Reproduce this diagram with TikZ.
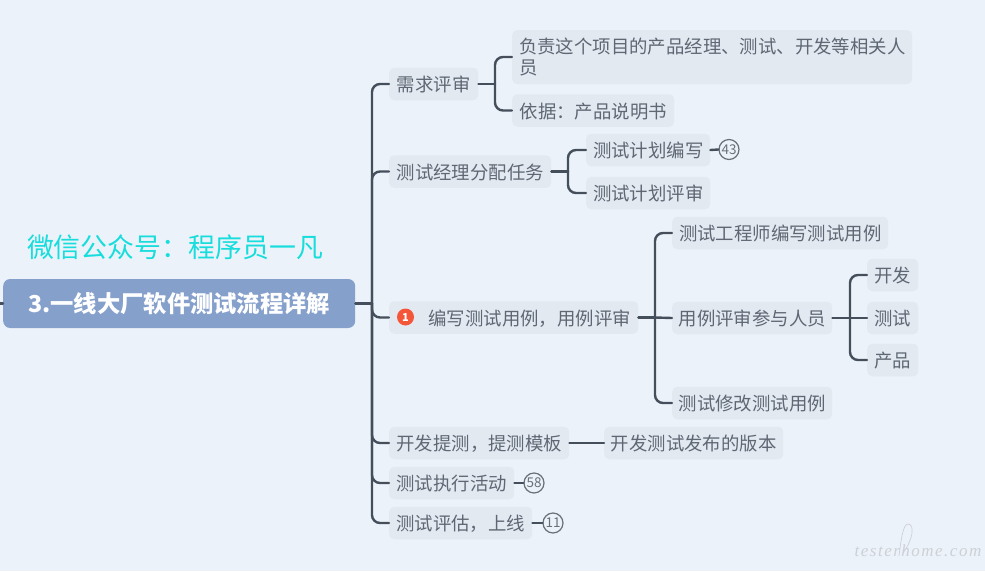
\documentclass[tikz,border=0pt]{standalone}
\usepackage{fontspec}
\setmainfont{Noto Sans CJK SC}
\newfontfamily\wmfont[LetterSpace=9]{Liberation Serif}
\newcommand\fwcomma{\symbol{"FF0C}}
\newcommand\fwcolon{\symbol{"FF1A}}
\definecolor{bgc}{HTML}{EBF2F9}
\definecolor{boxc}{HTML}{E3E9F1}
\definecolor{txtc}{HTML}{5E6773}
\definecolor{linec}{HTML}{454F5C}
\definecolor{rootc}{HTML}{86A0CC}
\definecolor{cyanc}{HTML}{17DDDC}
\definecolor{redc}{HTML}{F4563A}
\definecolor{numc}{HTML}{6A7078}
\definecolor{wmc}{HTML}{CDD1D6}
\tikzset{
  x=1pt,y=-1pt,
  topicbox/.style={fill=boxc,text=txtc,rounded corners=5pt,anchor=west,inner sep=0pt,minimum height=32.5pt,font=\fontsize{18.4}{20.5}\selectfont,align=left,text height=15.5pt,text depth=0pt},
  rootbox/.style={fill=rootc,text=white,rounded corners=7pt,anchor=west,inner sep=0pt,minimum width=352pt,minimum height=49pt,font=\fontsize{23.3}{26}\selectfont\bfseries},
  numbadge/.style={circle,draw=numc,line width=1.2pt,text=numc,inner sep=0pt,minimum size=20pt,font=\fontsize{13.5}{13.5}\selectfont},
  redbadge/.style={circle,fill=redc,text=white,inner sep=0pt,minimum size=17pt,font=\fontsize{11}{11}\selectfont\bfseries},
  conn/.style={draw=linec,line width=2.4pt,line cap=round},
  bendline/.style={conn,rounded corners=8pt},
}
\begin{document}
\begin{tikzpicture}
\useasboundingbox[fill=bgc] (0,0) rectangle (985,571);
% watermark title
\node[text=cyanc,font=\fontsize{26.9}{30}\selectfont,inner sep=0pt] (wx) at (175,247) {微信公众号\fwcolon 程序员一凡};
% root
\node[rootbox] (root) at (3,303.5) {3.一线大厂软件测试流程详解};
% level 1
\node[topicbox,minimum width=89pt] (a) at (389,84) {需求评审};
\node[topicbox,minimum width=162pt] (b) at (389,171.5) {测试经理分配任务};
\node[topicbox,minimum width=249pt] (c) at (389,317.5) {\hspace*{32pt}编写测试用例\fwcomma 用例评审};
\node[topicbox,minimum width=180pt] (d) at (389,443) {开发提测\fwcomma 提测模板};
\node[topicbox,minimum width=125pt] (e) at (389,483) {测试执行活动};
\node[topicbox,minimum width=143pt] (f) at (389,523) {测试评估\fwcomma 上线};
\node[redbadge] (cbadge) at (405.5,317) {1};
% level 2
\node[topicbox,minimum width=400pt,minimum height=54pt,text height={},text depth={}] (a1) at (512,57) {负责这个项目的产品经理、测试、开发等相关人\\员};
\node[topicbox,minimum width=162pt] (a2) at (512,110.5) {依据\fwcolon 产品说明书};
\node[topicbox,minimum width=124pt] (b1) at (586,150) {测试计划编写};
\node[topicbox,minimum width=124pt] (b2) at (586,193) {测试计划评审};
\node[topicbox,minimum width=216pt] (c1) at (672,233) {测试工程师编写测试用例};
\node[topicbox,minimum width=160pt] (c2) at (672,318) {用例评审参与人员};
\node[topicbox,minimum width=160pt] (c3) at (672,403) {测试修改测试用例};
\node[topicbox,minimum width=179pt] (d1) at (604,443) {开发测试发布的版本};
% level 3
\node[topicbox,minimum width=51pt] (c21) at (867,275) {开发};
\node[topicbox,minimum width=51pt] (c22) at (867,318) {测试};
\node[topicbox,minimum width=51pt] (c23) at (867,360) {产品};
% number badges
\node[numbadge] (n43) at (729,149.5) {43};
\node[numbadge] (n58) at (534,483) {58};
\node[numbadge] (n11) at (553,523) {11};
% junction points
\coordinate (left) at (0,303.5);
\coordinate (s0) at (372,303.5);
\coordinate (sa) at (495,84);
\coordinate (sb) at (568,171.5);
\coordinate (sc) at (655,317.5);
\coordinate (sc2) at (850,318);
% connectors
\draw[conn] (left) -- (root.west);
\draw[conn] (root.east) -- (s0);
\draw[bendline] (s0) |- (a.west);
\draw[bendline] (s0) |- (b.west);
\draw[bendline] (s0) |- (c.west);
\draw[bendline] (s0) |- (d.west);
\draw[bendline] (s0) |- (e.west);
\draw[bendline] (s0) |- (f.west);
\draw[conn] (a.east) -- (sa);
\draw[bendline] (sa) |- (a1.west);
\draw[bendline] (sa) |- (a2.west);
\draw[conn] (b.east) -- (sb);
\draw[bendline] (sb) |- (b1.west);
\draw[bendline] (sb) |- (b2.west);
\draw[conn] (c.east) -- (sc);
\draw[bendline] (sc) |- (c1.west);
\draw[conn] (sc) -- (c2.west);
\draw[bendline] (sc) |- (c3.west);
\draw[conn] (c2.east) -- (sc2);
\draw[bendline] (sc2) |- (c21.west);
\draw[conn] (sc2) -- (c22.west);
\draw[bendline] (sc2) |- (c23.west);
\draw[conn] (d.east) -- (d1.west);
\draw[conn] (b1.east) -- (n43.west);
\draw[conn] (e.east) -- (n58.west);
\draw[conn] (f.east) -- (n11.west);
% site mark
\node[text=wmc,font=\fontsize{17}{17}\selectfont\wmfont\itshape,inner sep=0pt] (wm) at (918,551) {testerhome.com};
\draw[wmc,line width=0.7pt] (899,556) .. controls (901,540) and (903,524) .. (908,524) .. controls (915,524) and (913,540) .. (903,553);
\end{tikzpicture}
\end{document}
